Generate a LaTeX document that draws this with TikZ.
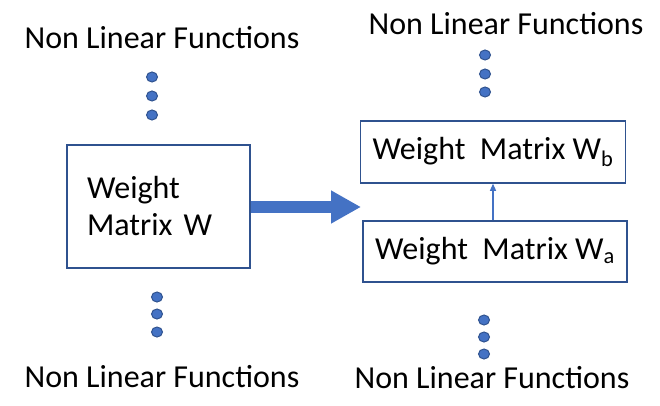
\documentclass[tikz,border=0pt]{standalone}
\usepackage{fontspec}
\setmainfont{Carlito}
\usepackage{tikz}
\usetikzlibrary{positioning,arrows.meta,shapes.geometric}

\definecolor{dotblue}{HTML}{4472C4}
\definecolor{edgeblue}{HTML}{2F528F}

\begin{document}
\begin{tikzpicture}[
			x=1pt,y=-1pt,
			every node/.style={font=\fontsize{32}{37}\selectfont},
			nlftext/.style={inner sep=0pt},
			matbox/.style={draw=edgeblue,line width=1.5pt,align=center,inner sep=0pt},
			bluedot/.style={ellipse,draw=edgeblue,fill=dotblue,line width=1pt,minimum width=11pt,minimum height=10pt,inner sep=0pt},
			bigarrow/.style={-{Triangle[length=30pt,width=31pt]},line width=12pt,dotblue},
			smallarrow/.style={-{Triangle[length=7pt,width=6pt]},line width=1.2pt,dotblue}
			]
			\useasboundingbox (0,0) rectangle (660,406);
			
			\node[nlftext] (nlf1) at (162,38) {Non Linear Functions};
			\node[nlftext] (nlf2) at (162,377) {Non Linear Functions};
			\node[nlftext] (nlf3) at (506,24) {Non Linear Functions};
			\node[nlftext] (nlf4) at (492,378) {Non Linear Functions};
			
			\node[matbox,minimum width=183pt,minimum height=123pt,text width=143pt,align=left] (w) at (158.5,206.5) {Weight\\Matrix\hspace{0.35em}W};
			\node[matbox,minimum width=265pt,minimum height=62pt] (wb) at (493,152) {Weight\ \ Matrix W\textsubscript{b}};
			\node[matbox,minimum width=264pt,minimum height=61pt] (wa) at (495,251.5) {Weight\ \ Matrix W\textsubscript{a}};
			
			\foreach \y [count=\i] in {77,96,115} \node[bluedot] (dl\i) at (152,\y) {};
			\foreach \y [count=\i] in {297,314,332} \node[bluedot] (dm\i) at (157,\y) {};
			\foreach \y [count=\i] in {55,74,92} \node[bluedot] (dr\i) at (485,\y) {};
			\foreach \y [count=\i] in {320,337,354} \node[bluedot] (dn\i) at (484,\y) {};
			
			\coordinate (tip) at (361,207);
			\draw[bigarrow] (w.east |- tip) -- (tip);
			\draw[smallarrow] (wa.north -| wb.south) -- (wb.south);
			
		\end{tikzpicture}
\end{document}
